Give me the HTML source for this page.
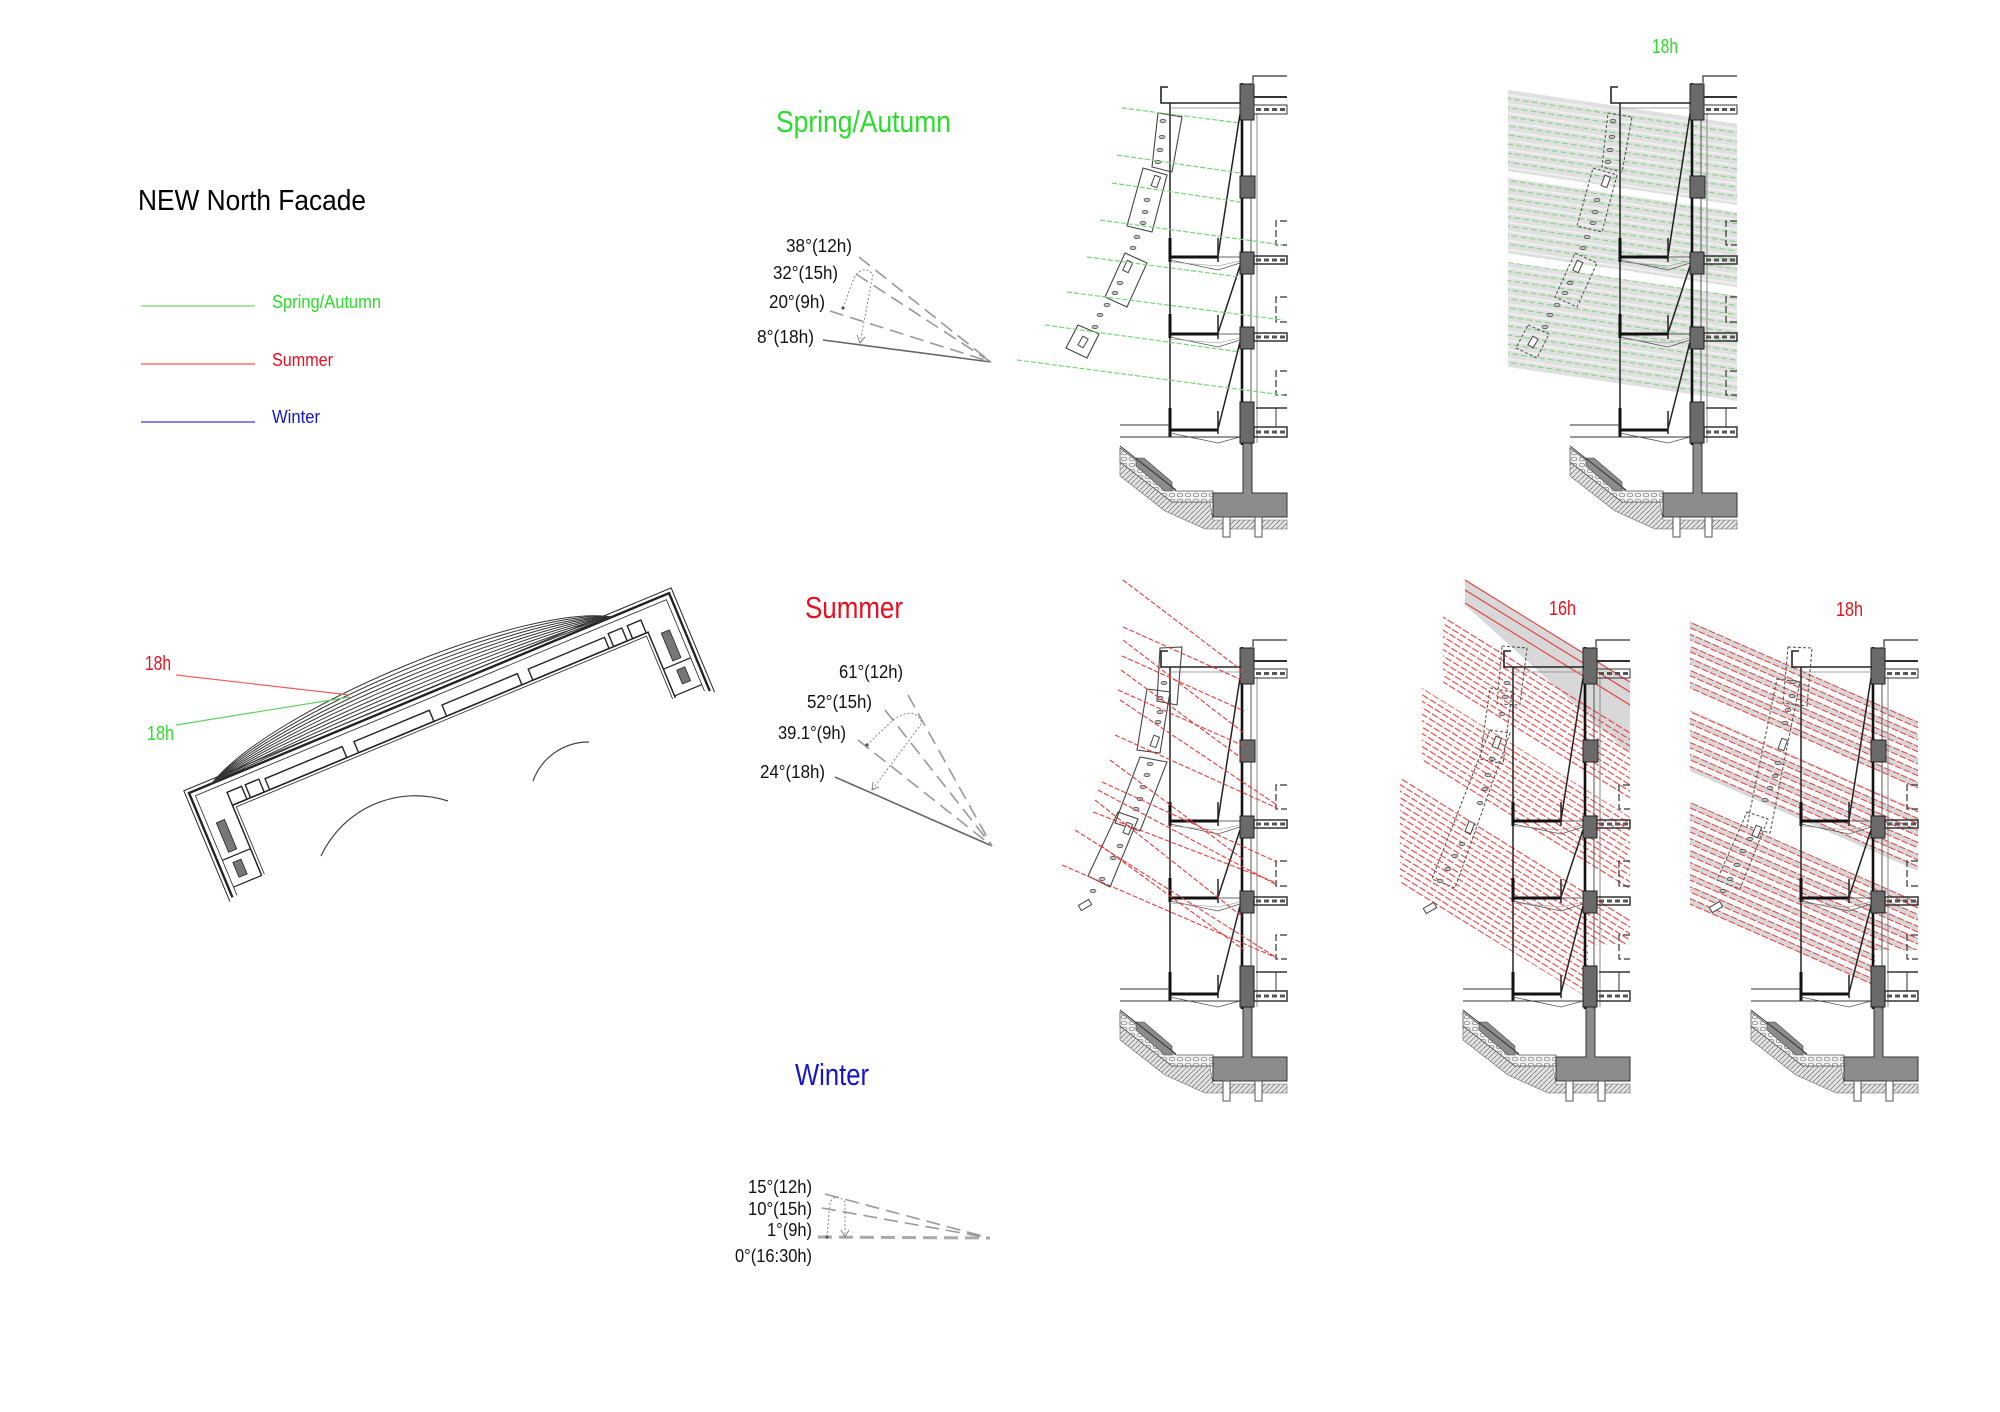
<!DOCTYPE html>
<html><head><meta charset="utf-8"><style>
html,body{margin:0;padding:0;background:#fff;}
svg{display:block;}
text{font-family:"Liberation Sans",Arial,sans-serif;}
.sl{fill:#c4c4c4;stroke:#444;stroke-width:.7}
.wn{fill:#fff;stroke:#444;stroke-width:1}
.pn{fill:none;stroke:#444;stroke-width:1.1}
.pd{fill:none;stroke:#555;stroke-width:1.1;stroke-dasharray:3 2}
.gr{stroke:#72d872;stroke-width:1.2;stroke-dasharray:5 2;fill:none}
.rr{stroke:#e83a3a;stroke-width:1.1;stroke-dasharray:5 2;fill:none}
</style></head><body>
<svg width="2000" height="1412" viewBox="0 0 2000 1412" xmlns="http://www.w3.org/2000/svg">
<defs>
 <pattern id="hatch" width="5" height="5" patternUnits="userSpaceOnUse"><rect width="5" height="5" fill="#e4e4e4"/><path d="M0,5 L5,0" stroke="#808080" stroke-width="0.8"/></pattern>
 <pattern id="gravel" width="8" height="6" patternUnits="userSpaceOnUse"><rect width="8" height="6" fill="#f2f2f2"/><ellipse cx="4" cy="3" rx="2.8" ry="1.8" fill="none" stroke="#777" stroke-width="0.7"/></pattern>
 <pattern id="r16" width="9" height="5.5" patternUnits="userSpaceOnUse" patternTransform="rotate(31.8)"><line x1="0" y1="0.6" x2="7" y2="0.6" stroke="#e83a3a" stroke-width="1.1"/></pattern>
 <pattern id="r18" width="9" height="11" patternUnits="userSpaceOnUse" patternTransform="rotate(23.7)"><rect width="9" height="5.5" fill="#d8d8d8"/><line x1="0" y1="0.5" x2="7" y2="0.5" stroke="#e83a3a" stroke-width="1"/><line x1="0" y1="5.5" x2="7" y2="5.5" stroke="#e83a3a" stroke-width="1"/></pattern>
 <pattern id="g18" width="9" height="9" patternUnits="userSpaceOnUse" patternTransform="rotate(8.5)"><rect width="9" height="9" fill="#e0e0e0"/><rect y="5" width="9" height="2" fill="#efefef"/><line x1="0" y1="0.5" x2="6" y2="0.5" stroke="#78d878" stroke-width="1.1"/></pattern>

 <g id="base">
  <polygon points="1120,462 1172,502 1210,502 1213,520 1287,520 1287,529 1205,529 1165,511 1120,476" fill="url(#hatch)" stroke="#666" stroke-width="0.6"/>
  <polygon points="1120,448 1176,491 1213,491 1213,502 1172,502 1120,462" fill="url(#gravel)" stroke="#555" stroke-width="0.8"/>
  <polygon points="1136,458 1144,458 1172,482 1172,491 1165,491 1136,466" fill="#8c8c8c" stroke="#444" stroke-width="0.6"/>
  <line x1="1120" y1="446" x2="1176" y2="490" stroke="#333" stroke-width="1"/>
  <polygon points="1243,443 1252,443 1252,493 1287,493 1287,517 1213,517 1213,493 1243,493" fill="#8c8c8c" stroke="#333" stroke-width="1"/>
  <rect x="1223" y="517" width="7" height="20" fill="#fff" stroke="#555"/>
  <rect x="1255" y="517" width="7" height="20" fill="#fff" stroke="#555"/>
  <line x1="1242" y1="83" x2="1242" y2="445" stroke="#111" stroke-width="2.6"/>
  <line x1="1251" y1="83" x2="1251" y2="445" stroke="#555" stroke-width="1"/>
  <line x1="1257" y1="113" x2="1257" y2="443" stroke="#888" stroke-width="1"/>
  <rect x="1240" y="84" width="14" height="36" fill="#6a6a6a" stroke="#222"/>
  <rect x="1240" y="176" width="15" height="22" fill="#6a6a6a" stroke="#222"/>
  <rect x="1240" y="252" width="14" height="22" fill="#6a6a6a" stroke="#222"/>
  <rect x="1240" y="327" width="14" height="22" fill="#6a6a6a" stroke="#222"/>
  <rect x="1240" y="402" width="14" height="41" fill="#6a6a6a" stroke="#222"/>
  <g fill="none" stroke="#333">
   <path d="M1253,83 V76 H1287" stroke-width="1.2"/>
   <line x1="1254" y1="97" x2="1287" y2="97" stroke-width="2"/>
   <rect x="1254" y="105" width="33" height="9" stroke-width="1"/>
   <line x1="1256" y1="109.5" x2="1287" y2="109.5" stroke="#555" stroke-width="3" stroke-dasharray="5 3"/>
   <rect x="1254" y="256" width="33" height="8" stroke-width="1.5"/>
   <line x1="1256" y1="260" x2="1287" y2="260" stroke="#555" stroke-width="3" stroke-dasharray="5 3"/>
   <rect x="1254" y="333" width="33" height="8" stroke-width="1.5"/>
   <line x1="1256" y1="337" x2="1287" y2="337" stroke="#555" stroke-width="3" stroke-dasharray="5 3"/>
   <line x1="1256" y1="408" x2="1287" y2="408" stroke-width="1.5"/>
   <line x1="1276" y1="408" x2="1276" y2="427" stroke-width="1"/>
   <rect x="1254" y="427" width="33" height="10" stroke-width="1.5"/>
   <line x1="1256" y1="432" x2="1287" y2="432" stroke="#555" stroke-width="3" stroke-dasharray="5 3"/>
   <path d="M1287,221 H1276 V245 H1287" stroke-width="1.2" stroke-dasharray="7 3"/>
   <path d="M1287,297 H1276 V322 H1287" stroke-width="1.2" stroke-dasharray="7 3"/>
   <path d="M1287,371 H1276 V395 H1287" stroke-width="1.2" stroke-dasharray="7 3"/>
   <line x1="1170" y1="103" x2="1170" y2="437" stroke="#222" stroke-width="1.5"/>
   <line x1="1170" y1="238" x2="1170" y2="262" stroke="#111" stroke-width="3"/>
   <line x1="1170" y1="314" x2="1170" y2="338" stroke="#111" stroke-width="3"/>
   <line x1="1170" y1="408" x2="1170" y2="437" stroke="#111" stroke-width="3"/>
   <path d="M1168,87 H1161 V103 H1241" stroke="#222" stroke-width="1.6"/>
   <line x1="1170" y1="108" x2="1241" y2="108" stroke="#888" stroke-width="0.8"/>
   <line x1="1170" y1="257" x2="1218" y2="257" stroke="#111" stroke-width="3"/>
   <line x1="1218" y1="257" x2="1241" y2="257" stroke-width="0.8"/>
   <line x1="1170" y1="334" x2="1218" y2="334" stroke="#111" stroke-width="3"/>
   <line x1="1218" y1="334" x2="1241" y2="334" stroke-width="0.8"/>
   <line x1="1170" y1="430" x2="1218" y2="430" stroke="#111" stroke-width="3"/>
   <line x1="1240" y1="114" x2="1218" y2="256" stroke="#222" stroke-width="1.5"/>
   <line x1="1240" y1="266" x2="1218" y2="333" stroke="#222" stroke-width="1.5"/>
   <line x1="1240" y1="342" x2="1218" y2="429" stroke="#222" stroke-width="1.5"/>
   <line x1="1218" y1="238" x2="1218" y2="262" stroke="#222" stroke-width="1.5"/>
   <line x1="1218" y1="315" x2="1218" y2="339" stroke="#222" stroke-width="1.5"/>
   <line x1="1218" y1="411" x2="1218" y2="434" stroke="#222" stroke-width="1.5"/>
   <polyline points="1170,260 1218,270 1240,263" stroke="#555" stroke-width="0.8"/>
   <polyline points="1170,262 1218,266 1240,261" stroke="#888" stroke-width="0.6"/>
   <polyline points="1170,337 1218,347 1240,340" stroke="#555" stroke-width="0.8"/>
   <polyline points="1170,339 1218,343 1240,338" stroke="#888" stroke-width="0.6"/>
   <polyline points="1170,433 1218,443 1240,437" stroke="#555" stroke-width="0.8"/>
   <line x1="1120" y1="425" x2="1170" y2="425" stroke-width="1"/>
   <line x1="1120" y1="437" x2="1241" y2="437" stroke-width="1"/>
  </g>
 </g>
</defs>

<!-- ============ LEFT: title & legend ============ -->
<text x="138" y="210" font-size="29" textLength="228" lengthAdjust="spacingAndGlyphs" fill="#000">NEW North Facade</text>
<line x1="141" y1="306" x2="255" y2="306" stroke="#86e086" stroke-width="1.5"/>
<line x1="141" y1="364" x2="255" y2="364" stroke="#f07070" stroke-width="1.5"/>
<line x1="141" y1="422" x2="255" y2="422" stroke="#5a5ae6" stroke-width="1.5"/>
<text x="272" y="308" font-size="18" textLength="109" lengthAdjust="spacingAndGlyphs" fill="#2bdc2b">Spring/Autumn</text>
<text x="272" y="366" font-size="18" textLength="61" lengthAdjust="spacingAndGlyphs" fill="#e8101e">Summer</text>
<text x="272" y="423" font-size="18" textLength="48" lengthAdjust="spacingAndGlyphs" fill="#1515d0">Winter</text>

<!-- ============ PLAN ============ -->
<g transform="translate(189,793) rotate(-22.6) scale(0.983,1)" fill="none" stroke="#222">
 <path d="M0,113 V0 H529 V106" stroke-width="2.4"/>
 <path d="M-4,116 V-4 H533 V109" stroke-width="1"/>
 <path d="M5,113 V5 H524 V104" stroke-width="0.8"/>
 <path d="M36,104 V28 H494 V99" stroke-width="1.5"/>
 <path d="M39,104 V31 H491 V99" stroke-width="0.8"/>
 <path d="M5,104 H36 M5,75 H36 M494,97 H524 M494,68 H524" stroke-width="1.2"/>
 <rect x="14" y="38" width="9" height="32" fill="#777" stroke-width="0.8"/>
 <rect x="14" y="81" width="9" height="16" fill="#777" stroke-width="0.8"/>
 <rect x="506" y="34" width="9" height="30" fill="#777" stroke-width="0.8"/>
 <rect x="506" y="74" width="9" height="15" fill="#777" stroke-width="0.8"/>
 <g stroke-width="1.4">
  <rect x="36" y="14" width="16" height="14"/>
  <rect x="56" y="14" width="15" height="14"/>
  <rect x="77" y="16" width="85" height="12"/>
  <rect x="175" y="16" width="83" height="12"/>
  <rect x="272" y="16" width="83" height="12"/>
  <rect x="367" y="16" width="84" height="12"/>
  <rect x="456" y="14" width="15" height="14"/>
  <rect x="477" y="14" width="15" height="14"/>
 </g>
 <g stroke="#333" stroke-width="1">
  <path d="M25,0 C110,-46 390,-46 466,0"/>
  <path d="M25,0 C110,-41 390,-41 466,0"/>
  <path d="M25,0 C110,-36 390,-36 466,0"/>
  <path d="M25,0 C110,-31 390,-31 466,0"/>
  <path d="M25,0 C110,-26 390,-26 466,0"/>
  <path d="M25,0 C110,-21 390,-21 466,0"/>
  <path d="M25,0 C110,-16 390,-16 466,0"/>
  <path d="M25,0 C110,-11 390,-11 466,0"/>
  <path d="M25,0 C110,-6 390,-6 466,0"/>
 </g>
</g>
<path d="M321,856 A104,104 0 0 1 448,801" fill="none" stroke="#444" stroke-width="1.2"/>
<path d="M533,781 A59,59 0 0 1 589,742" fill="none" stroke="#444" stroke-width="1.2"/>
<line x1="176" y1="675" x2="350" y2="695" stroke="#f06060" stroke-width="1.2"/>
<line x1="176" y1="725" x2="350" y2="697" stroke="#60d060" stroke-width="1.2"/>
<text x="145" y="670" font-size="20" textLength="26" lengthAdjust="spacingAndGlyphs" fill="#e8101e">18h</text>
<text x="147" y="740" font-size="20" textLength="27" lengthAdjust="spacingAndGlyphs" fill="#2bdc2b">18h</text>

<!-- ============ SPRING/AUTUMN angle ============ -->
<text x="776" y="132" font-size="31" textLength="175" lengthAdjust="spacingAndGlyphs" fill="#2bdc2b">Spring/Autumn</text>
<g transform="translate(-6,-2)">
<g font-size="18" fill="#111">
 <text x="792" y="254" textLength="66" lengthAdjust="spacingAndGlyphs">38°(12h)</text>
 <text x="779" y="281" textLength="65" lengthAdjust="spacingAndGlyphs">32°(15h)</text>
 <text x="775" y="310" textLength="56" lengthAdjust="spacingAndGlyphs">20°(9h)</text>
 <text x="763" y="345" textLength="57" lengthAdjust="spacingAndGlyphs">8°(18h)</text>
</g>
<line x1="829" y1="342" x2="997" y2="364" stroke="#666" stroke-width="1.6"/>
<g stroke="#999" stroke-width="1.6" stroke-dasharray="14 7">
 <line x1="836" y1="313" x2="997" y2="364"/>
 <line x1="862" y1="276" x2="997" y2="364"/>
 <line x1="865" y1="259" x2="997" y2="364"/>
</g>
<path d="M849,310 L860,280 Q868,266 879,276 L866,345" fill="none" stroke="#888" stroke-width="1" stroke-dasharray="2 2"/>
<path d="M871,339 L866,345 L863,337" fill="none" stroke="#888" stroke-width="1"/>
<circle cx="849" cy="310" r="1.6" fill="#555"/>
</g>

<!-- ============ SUMMER angle ============ -->
<text x="805" y="618" font-size="31" textLength="98" lengthAdjust="spacingAndGlyphs" fill="#e8101e">Summer</text>
<g font-size="18" fill="#111">
 <text x="839" y="678" textLength="64" lengthAdjust="spacingAndGlyphs">61°(12h)</text>
 <text x="807" y="708" textLength="65" lengthAdjust="spacingAndGlyphs">52°(15h)</text>
 <text x="778" y="739" textLength="68" lengthAdjust="spacingAndGlyphs">39.1°(9h)</text>
 <text x="760" y="778" textLength="65" lengthAdjust="spacingAndGlyphs">24°(18h)</text>
</g>
<line x1="835" y1="777" x2="992" y2="846" stroke="#666" stroke-width="1.6"/>
<g stroke="#999" stroke-width="1.6" stroke-dasharray="14 7">
 <line x1="858" y1="740" x2="992" y2="846"/>
 <line x1="885" y1="710" x2="992" y2="846"/>
 <line x1="908" y1="695" x2="992" y2="846"/>
</g>
<path d="M867,745 L893,720 Q915,705 922,723 L872,790" fill="none" stroke="#888" stroke-width="1" stroke-dasharray="2 2"/>
<path d="M879,787 L872,790 L873,782" fill="none" stroke="#888" stroke-width="1"/>
<circle cx="867" cy="745" r="1.6" fill="#555"/>

<!-- ============ WINTER angle ============ -->
<text x="795" y="1085" font-size="31" textLength="74" lengthAdjust="spacingAndGlyphs" fill="#1515d0">Winter</text>
<g font-size="18" fill="#111" text-anchor="end">
 <text x="812" y="1193" textLength="64" lengthAdjust="spacingAndGlyphs">15°(12h)</text>
 <text x="812" y="1215" textLength="64" lengthAdjust="spacingAndGlyphs">10°(15h)</text>
 <text x="812" y="1236" textLength="45" lengthAdjust="spacingAndGlyphs">1°(9h)</text>
 <text x="812" y="1262" textLength="77" lengthAdjust="spacingAndGlyphs">0°(16:30h)</text>
</g>
<g stroke="#999" stroke-width="1.6" stroke-dasharray="14 7">
 <line x1="825" y1="1194" x2="990" y2="1238"/>
 <line x1="822" y1="1208" x2="990" y2="1238"/>
</g>
<line x1="818" y1="1237" x2="990" y2="1238" stroke="#aaa" stroke-width="3" stroke-dasharray="14 7"/>
<path d="M827,1237 L830,1202 Q837,1192 845,1202 L845,1236" fill="none" stroke="#888" stroke-width="1" stroke-dasharray="2 2"/>
<path d="M841,1230 L845,1237 L849,1230" fill="none" stroke="#888" stroke-width="1"/>
<circle cx="827" cy="1237" r="1.6" fill="#555"/>

<!-- ============ SECTION 1 (spring, solid panels) ============ -->
<use href="#base"/>
<g>
 <polygon class="pn" points="1158,113 1182,117 1172,172 1152,167"/>
 <polygon class="pn" points="1143,168 1167,175 1152,232 1127,226"/>
 <polygon class="pn" points="1125,253 1147,263 1127,307 1105,297"/>
 <polygon class="pn" points="1078,325 1099,334 1087,358 1066,348"/>
 <ellipse class="sl" cx="1163" cy="121" rx="3" ry="1.6"/><ellipse class="sl" cx="1162" cy="137" rx="3" ry="1.6"/>
 <ellipse class="sl" cx="1160" cy="150" rx="3" ry="1.6"/><ellipse class="sl" cx="1158" cy="162" rx="3" ry="1.6"/>
 <rect class="wn" x="1153" y="176" width="6" height="11" transform="rotate(20 1156 181)"/>
 <ellipse class="sl" cx="1147" cy="200" rx="3" ry="1.6"/><ellipse class="sl" cx="1145" cy="212" rx="3" ry="1.6"/>
 <ellipse class="sl" cx="1143" cy="223" rx="3" ry="1.6"/><ellipse class="sl" cx="1137" cy="237" rx="3" ry="1.6"/>
 <ellipse class="sl" cx="1133" cy="248" rx="3" ry="1.6"/>
 <rect class="wn" x="1125" y="261" width="6" height="11" transform="rotate(25 1128 266)"/>
 <ellipse class="sl" cx="1120" cy="283" rx="3" ry="1.6"/><ellipse class="sl" cx="1115" cy="293" rx="3" ry="1.6"/>
 <ellipse class="sl" cx="1107" cy="305" rx="3" ry="1.6"/><ellipse class="sl" cx="1100" cy="315" rx="3" ry="1.6"/>
 <ellipse class="sl" cx="1095" cy="327" rx="3" ry="1.6"/>
 <rect class="wn" x="1080" y="337" width="6" height="10" transform="rotate(30 1083 342)"/>
</g>
<g class="gr">
 <line x1="1122" y1="108" x2="1240" y2="123"/>
 <line x1="1117" y1="155" x2="1240" y2="173"/>
 <line x1="1112" y1="183" x2="1240" y2="202"/>
 <line x1="1100" y1="220" x2="1283" y2="245"/>
 <line x1="1087" y1="257" x2="1240" y2="277"/>
 <line x1="1067" y1="292" x2="1283" y2="320"/>
 <line x1="1045" y1="325" x2="1240" y2="352"/>
 <line x1="1017" y1="360" x2="1283" y2="395"/>
</g>

<!-- ============ SECTION 2 (spring 18h) ============ -->
<polygon points="1508,90 1737,124 1737,401 1508,367" fill="url(#g18)"/>
<polygon points="1508,171 1737,205 1737,212 1508,178" fill="#fff"/>
<polygon points="1508,253 1737,287 1737,296 1508,262" fill="#fff"/>
<use href="#base" transform="translate(450,0)"/>
<g>
 <polygon class="pd" points="1608,113 1632,117 1622,172 1602,167"/>
 <polygon class="pd" points="1593,168 1617,175 1602,232 1577,226"/>
 <polygon class="pd" points="1575,253 1597,263 1577,307 1555,297"/>
 <polygon class="pd" points="1528,325 1549,334 1537,358 1516,348"/>
 <ellipse class="sl" cx="1613" cy="121" rx="3" ry="1.6"/><ellipse class="sl" cx="1612" cy="137" rx="3" ry="1.6"/>
 <ellipse class="sl" cx="1610" cy="150" rx="3" ry="1.6"/><ellipse class="sl" cx="1608" cy="162" rx="3" ry="1.6"/>
 <rect class="wn" x="1603" y="176" width="6" height="11" transform="rotate(20 1606 181)"/>
 <ellipse class="sl" cx="1597" cy="200" rx="3" ry="1.6"/><ellipse class="sl" cx="1595" cy="212" rx="3" ry="1.6"/>
 <ellipse class="sl" cx="1593" cy="223" rx="3" ry="1.6"/><ellipse class="sl" cx="1587" cy="237" rx="3" ry="1.6"/>
 <ellipse class="sl" cx="1583" cy="248" rx="3" ry="1.6"/>
 <rect class="wn" x="1575" y="261" width="6" height="11" transform="rotate(25 1578 266)"/>
 <ellipse class="sl" cx="1570" cy="283" rx="3" ry="1.6"/><ellipse class="sl" cx="1565" cy="293" rx="3" ry="1.6"/>
 <ellipse class="sl" cx="1557" cy="305" rx="3" ry="1.6"/><ellipse class="sl" cx="1550" cy="315" rx="3" ry="1.6"/>
 <ellipse class="sl" cx="1545" cy="327" rx="3" ry="1.6"/>
 <rect class="wn" x="1530" y="337" width="6" height="10" transform="rotate(30 1533 342)"/>
</g>
<text x="1652" y="53" font-size="20" textLength="26" lengthAdjust="spacingAndGlyphs" fill="#2bdc2b">18h</text>

<!-- ============ SUMMER A ============ -->
<use href="#base" transform="translate(0,564)"/>
<g>
 <polygon class="pn" points="1160,648 1182,647 1177,705 1157,701"/>
 <polygon class="pn" points="1147,689 1170,692 1160,753 1137,750"/>
 <polygon class="pn" points="1140,757 1167,762 1140,831 1115,823"/>
 <polygon class="pn" points="1118,812 1138,819 1110,887 1088,876"/>
 <ellipse class="sl" cx="1164" cy="683" rx="3" ry="1.6"/><ellipse class="sl" cx="1160" cy="698" rx="3" ry="1.6"/>
 <ellipse class="sl" cx="1160" cy="712" rx="3" ry="1.6"/><ellipse class="sl" cx="1158" cy="722" rx="3" ry="1.6"/>
 <rect class="wn" x="1152" y="736" width="6" height="11" transform="rotate(20 1155 741)"/>
 <ellipse class="sl" cx="1150" cy="764" rx="3" ry="1.6"/><ellipse class="sl" cx="1147" cy="775" rx="3" ry="1.6"/>
 <ellipse class="sl" cx="1143" cy="787" rx="3" ry="1.6"/><ellipse class="sl" cx="1140" cy="799" rx="3" ry="1.6"/>
 <ellipse class="sl" cx="1136" cy="809" rx="3" ry="1.6"/>
 <rect class="wn" x="1125" y="823" width="6" height="11" transform="rotate(22 1128 828)"/>
 <ellipse class="sl" cx="1120" cy="846" rx="3" ry="1.6"/><ellipse class="sl" cx="1113" cy="858" rx="3" ry="1.6"/>
 <ellipse class="sl" cx="1102" cy="879" rx="3" ry="1.6"/><ellipse class="sl" cx="1093" cy="891" rx="3" ry="1.6"/>
 <rect class="wn" x="1079" y="902" width="12" height="6" transform="rotate(-30 1085 905)"/>
</g>
<g class="rr">
 <line x1="1123" y1="580" x2="1244" y2="672"/>
 <line x1="1123" y1="627" x2="1244" y2="681"/>
 <line x1="1123" y1="640" x2="1244" y2="733"/>
 <line x1="1122" y1="656" x2="1244" y2="711"/>
 <line x1="1121" y1="670" x2="1244" y2="760"/>
 <line x1="1120" y1="700" x2="1277" y2="805"/>
 <line x1="1118" y1="690" x2="1244" y2="746"/>
 <line x1="1115" y1="735" x2="1277" y2="808"/>
 <line x1="1110" y1="760" x2="1244" y2="860"/>
 <line x1="1102" y1="782" x2="1277" y2="862"/>
 <line x1="1098" y1="790" x2="1277" y2="885"/>
 <line x1="1095" y1="800" x2="1244" y2="918"/>
 <line x1="1093" y1="812" x2="1277" y2="883"/>
 <line x1="1075" y1="830" x2="1277" y2="958"/>
 <line x1="1062" y1="865" x2="1277" y2="958"/>
 <line x1="1100" y1="845" x2="1244" y2="950"/>
</g>

<!-- ============ SUMMER 16h ============ -->
<polygon points="1465,580 1630,682 1630,754 1465,605" fill="#d8d8d8"/>
<polygon points="1443,612 1630,728 1630,801 1443,685" fill="url(#r16)"/>
<polygon points="1422,688 1630,817 1630,893 1422,764" fill="url(#r16)"/>
<polygon points="1400,775 1630,918 1630,945 1588,945 1588,998 1400,883" fill="url(#r16)"/>
<g class="rr" style="stroke-dasharray:none">
 <line x1="1465" y1="580" x2="1630" y2="682"/>
 <line x1="1465" y1="590" x2="1630" y2="692"/>
 <line x1="1465" y1="603" x2="1630" y2="705"/>
</g>
<use href="#base" transform="translate(343,564)"/>
<g>
 <polygon class="pd" points="1502,646 1527,648 1520,705 1497,704"/>
 <polygon class="pd" points="1490,688 1512,692 1503,764 1480,759"/>
 <polygon class="pd" points="1490,730 1510,733 1455,888 1432,879"/>
 <ellipse class="sl" cx="1507" cy="683" rx="3" ry="1.6"/><ellipse class="sl" cx="1505" cy="697" rx="3" ry="1.6"/>
 <ellipse class="sl" cx="1502" cy="714" rx="3" ry="1.6"/>
 <rect class="wn" x="1494" y="737" width="6" height="11" transform="rotate(20 1497 742)"/>
 <ellipse class="sl" cx="1492" cy="759" rx="3" ry="1.6"/><ellipse class="sl" cx="1488" cy="775" rx="3" ry="1.6"/>
 <ellipse class="sl" cx="1485" cy="789" rx="3" ry="1.6"/><ellipse class="sl" cx="1480" cy="803" rx="3" ry="1.6"/>
 <rect class="wn" x="1467" y="822" width="6" height="11" transform="rotate(22 1470 827)"/>
 <ellipse class="sl" cx="1462" cy="844" rx="3" ry="1.6"/><ellipse class="sl" cx="1455" cy="856" rx="3" ry="1.6"/>
 <ellipse class="sl" cx="1448" cy="869" rx="3" ry="1.6"/><ellipse class="sl" cx="1440" cy="881" rx="3" ry="1.6"/>
 <rect class="wn" x="1424" y="905" width="12" height="6" transform="rotate(-30 1430 908)"/>
</g>
<text x="1549" y="615" font-size="20" textLength="27" lengthAdjust="spacingAndGlyphs" fill="#e8101e">16h</text>

<!-- ============ SUMMER 18h ============ -->
<polygon points="1690,621 1918,721 1918,793 1690,693" fill="url(#r18)"/>
<polygon points="1690,710 1918,810 1918,871 1690,771" fill="url(#r18)"/>
<polygon points="1690,802 1918,902 1918,950 1875,950 1875,990 1690,908" fill="url(#r18)"/>
<use href="#base" transform="translate(631,564)"/>
<g>
 <polygon class="pd" points="1788,647 1812,648 1807,706 1783,703"/>
 <polygon class="pd" points="1777,679 1800,682 1770,833 1747,826"/>
 <polygon class="pd" points="1747,812 1768,819 1740,889 1717,880"/>
 <ellipse class="sl" cx="1793" cy="682" rx="3" ry="1.6"/><ellipse class="sl" cx="1792" cy="696" rx="3" ry="1.6"/>
 <ellipse class="sl" cx="1788" cy="710" rx="3" ry="1.6"/><ellipse class="sl" cx="1785" cy="723" rx="3" ry="1.6"/>
 <rect class="wn" x="1780" y="739" width="6" height="11" transform="rotate(20 1783 744)"/>
 <ellipse class="sl" cx="1778" cy="763" rx="3" ry="1.6"/><ellipse class="sl" cx="1775" cy="776" rx="3" ry="1.6"/>
 <ellipse class="sl" cx="1770" cy="788" rx="3" ry="1.6"/><ellipse class="sl" cx="1765" cy="800" rx="3" ry="1.6"/>
 <rect class="wn" x="1754" y="826" width="6" height="11" transform="rotate(22 1757 831)"/>
 <ellipse class="sl" cx="1750" cy="839" rx="3" ry="1.6"/><ellipse class="sl" cx="1743" cy="851" rx="3" ry="1.6"/>
 <ellipse class="sl" cx="1737" cy="865" rx="3" ry="1.6"/><ellipse class="sl" cx="1730" cy="879" rx="3" ry="1.6"/>
 <ellipse class="sl" cx="1723" cy="891" rx="3" ry="1.6"/>
 <rect class="wn" x="1710" y="904" width="12" height="6" transform="rotate(-30 1716 907)"/>
</g>
<text x="1836" y="616" font-size="20" textLength="27" lengthAdjust="spacingAndGlyphs" fill="#e8101e">18h</text>
</svg>
</body></html>
